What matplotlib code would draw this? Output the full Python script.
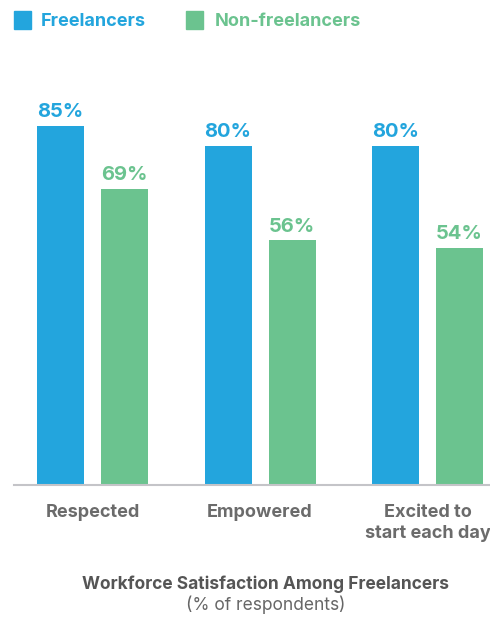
import matplotlib
matplotlib.use("Agg")
import matplotlib.pyplot as plt
from matplotlib.patches import Rectangle
import numpy as np

categories = ["Respected", "Empowered", "Excited to\nstart each day"]
freelancers = [85, 80, 80]
non_freelancers = [69, 56, 54]
series_names = ["Freelancers", "Non-freelancers"]
title = "Workforce Satisfaction Among Freelancers"
subtitle = "(% of respondents)"

BLUE = "#23A5DD"
GREEN = "#6BC38F"
GRAY = "#6b6b6b"

plt.rcParams['font.family'] = ['Inter', 'DejaVu Sans']

W, H = 490, 618
fig = plt.figure(figsize=(W / 100, H / 100), dpi=100)

base = -6.1
ax = fig.add_axes([14 / W, 133 / H, 476 / W, 485 / H])
x = np.arange(len(categories))
bw = 0.2806
off = 0.191
fb = [v - base for v in freelancers]
nb = [v - base for v in non_freelancers]
ax.bar(x - off, fb, bw, bottom=base, color=BLUE)
ax.bar(x + off, nb, bw, bottom=base, color=GREEN)
for xi, v in zip(x, freelancers):
    ax.text(xi - off, v + 1.2, f"{v}%", ha="center", va="bottom", color=BLUE,
            fontsize=14.5, fontweight="bold")
for xi, v in zip(x, non_freelancers):
    ax.text(xi + off, v + 1.2, f"{v}%", ha="center", va="bottom", color=GREEN,
            fontsize=14.5, fontweight="bold")

ax.set_xlim(-0.4687, 2.373)
ax.set_ylim(base, 117)
for s in ["top", "right", "left"]:
    ax.spines[s].set_visible(False)
ax.spines["bottom"].set_color("#c4c4c8")
ax.spines["bottom"].set_linewidth(1.5)
ax.set_yticks([])
ax.set_xticks(x)
ax.set_xticklabels(categories, fontsize=13, fontweight="bold", color=GRAY,
                   linespacing=1.3, va="top")
ax.tick_params(axis="x", length=0, pad=14)

# legend
fig.patches.append(Rectangle((14 / W, 1 - 29 / H), 17 / W, 18 / H,
                             transform=fig.transFigure, color=BLUE))
fig.text(41 / W, 1 - 21 / H, series_names[0], color=BLUE, fontsize=13,
         fontweight="bold", va="center", ha="left")
fig.patches.append(Rectangle((186 / W, 1 - 29 / H), 17 / W, 18 / H,
                             transform=fig.transFigure, color=GREEN))
fig.text(215 / W, 1 - 21 / H, series_names[1], color=GREEN, fontsize=13,
         fontweight="bold", va="center", ha="left")

fig.text(266 / W, 1 - 584 / H, title, color="#555555", fontsize=12.5,
         fontweight="bold", ha="center", va="center")
fig.text(266 / W, 1 - 605 / H, subtitle, color="#666666", fontsize=12.5,
         ha="center", va="center")

fig.savefig("out.png", dpi=100)
